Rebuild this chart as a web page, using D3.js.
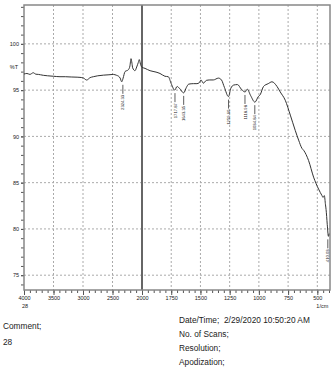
<!DOCTYPE html>
<html>
<head>
<meta charset="utf-8">
<script src="https://cdn.jsdelivr.net/npm/d3@7"></script>
<style>
body { margin: 0; background: #fff; }
text { font-family: "Liberation Sans", Arial, sans-serif; fill: #222; }
</style>
</head>
<body>
<div id="chart"></div>
<script>
// FTIR spectrum, %T vs wavenumber

let waveNumbers = [4000, 3950, 3900, 3842, 3800, 3757, 3720, 3672, 3600, 3500, 3390, 3300, 3200, 3100, 3051, 2990, 2938, 2880, 2825, 2750, 2650, 2560, 2486, 2430, 2401, 2370, 2344, 2320, 2288, 2232, 2205, 2186, 2170, 2158, 2119, 2090, 2062, 2046, 2025, 2005, 1974, 1931, 1880, 1846, 1804, 1775, 1750, 1720, 1700, 1680, 1643, 1620, 1600, 1560, 1530, 1510, 1495, 1475, 1450, 1420, 1390, 1346, 1320, 1295, 1260, 1240, 1215, 1183, 1150, 1118, 1100, 1070, 1034, 1005, 989, 960, 920, 888, 845, 817, 774, 731, 689, 660, 631, 617, 575, 532, 489, 460, 451, 440, 430, 425, 415, 405, 400];
let transmittance = [96.74, 96.8, 96.7, 96.88, 96.72, 96.7, 96.66, 96.6, 96.55, 96.5, 96.45, 96.45, 96.42, 96.4, 96.38, 96.3, 96.09, 96.35, 96.45, 96.55, 96.62, 96.66, 96.7, 96.6, 96.52, 96.3, 95.9, 96.3, 97.0, 97.2, 97.6, 98.4, 97.9, 97.4, 97.1, 97.5, 98.0, 98.3, 97.8, 97.5, 97.35, 97.1, 96.95, 96.8, 96.5, 96.45, 95.7, 95.0, 95.4, 95.2, 94.7, 95.3, 95.65, 95.7, 95.7, 95.8, 96.1, 95.75, 96.05, 96.1, 96.1, 96.3, 96.1, 95.3, 94.3, 95.2, 95.55, 95.6, 95.1, 94.8, 95.1, 94.4, 93.7, 94.3, 94.5, 95.4, 95.7, 95.9, 95.4, 94.8, 93.9, 92.3, 90.65, 89.6, 88.7, 88.5, 87.4, 85.6, 84.3, 83.6, 83.4, 83.6, 82.6, 82.1, 80.5, 79.2, 79.5];

let peakWn = [2324.33, 1717.87, 1643.35, 1259.6, 1118.98, 1034.84, 410.03];
let peakT = [95.9, 95.0, 94.7, 94.3, 94.8, 93.7, 79.2];

let xMajor = [4000, 3500, 3000, 2500, 2000, 1750, 1500, 1250, 1000, 750, 500];
let yMajor = [100, 95, 90, 85, 80, 75];

let infoLabels = ["Date/Time;", "No. of Scans;", "Resolution;", "Apodization;"];

let svgWidth = 334;
let svgHeight = 369;

let plot = { left: 24, top: 5, right: 330, bottom: 290 };

let svg = d3.select("#chart")
    .append("svg")
    .attr("width", svgWidth)
    .attr("height", svgHeight);

// scale doubles below 2000 like the instrument printout
let x = d3.scaleLinear()
    .domain([4000, 2000, 400])
    .range([plot.left, 142, 329]);

let y = d3.scaleLinear()
    .domain([73.4, 104.2])
    .range([plot.bottom, plot.top]);

// grid
svg.append("g")
    .selectAll("line")
    .data(yMajor)
    .enter()
    .append("line")
    .attr("x1", plot.left)
    .attr("x2", plot.right)
    .attr("y1", d => y(d))
    .attr("y2", d => y(d))
    .attr("stroke", "#aaa")
    .attr("stroke-width", 1)
    .attr("stroke-dasharray", "2,2");

svg.append("g")
    .selectAll("line")
    .data(xMajor.filter(d => d !== 4000 && d !== 2000))
    .enter()
    .append("line")
    .attr("x1", d => x(d))
    .attr("x2", d => x(d))
    .attr("y1", plot.top)
    .attr("y2", plot.bottom)
    .attr("stroke", "#aaa")
    .attr("stroke-width", 1)
    .attr("stroke-dasharray", "2,2");

svg.append("line")
    .attr("x1", x(2000))
    .attr("x2", x(2000))
    .attr("y1", plot.top)
    .attr("y2", plot.bottom)
    .attr("stroke", "#666")
    .attr("stroke-width", 2);

// axes
let leftMinor = d3.axisLeft(y)
    .tickValues(d3.range(74, 105))
    .tickSize(3)
    .tickFormat("");

let leftMajor = d3.axisLeft(y)
    .tickValues(yMajor)
    .tickSize(3)
    .tickPadding(2)
    .tickFormat(d3.format("d"));

let xMinorVals = d3.range(4000, 2000, -100).concat(d3.range(2000, 399, -50));

let bottomMinor = d3.axisBottom(x)
    .tickValues(xMinorVals)
    .tickSize(3)
    .tickFormat("");

let bottomMajor = d3.axisBottom(x)
    .tickValues(xMajor)
    .tickSize(5)
    .tickPadding(1)
    .tickFormat(d3.format("d"));

function styleAxis(g) {
    g.select(".domain").remove();
    g.selectAll("line").attr("stroke", "#555");
    g.selectAll("text")
        .attr("font-size", "5.5px")
        .attr("font-family", "Liberation Sans, Arial, sans-serif")
        .attr("fill", "#333");
}

svg.append("g").attr("transform", `translate(${plot.left},0)`).call(leftMinor).call(styleAxis);
svg.append("g").attr("transform", `translate(${plot.left},0)`).call(leftMajor).call(styleAxis);
svg.append("g").attr("transform", `translate(0,${plot.bottom})`).call(bottomMinor).call(styleAxis);
svg.append("g").attr("transform", `translate(0,${plot.bottom})`).call(bottomMajor).call(styleAxis);

svg.append("text")
    .attr("x", 18)
    .attr("y", y(97.5))
    .attr("dy", "0.35em")
    .attr("text-anchor", "end")
    .attr("font-size", "5.5px")
    .text("%T");

svg.append("text")
    .attr("x", x(4000) + 1)
    .attr("y", 308)
    .attr("text-anchor", "middle")
    .attr("font-size", "5.5px")
    .text("28");

svg.append("text")
    .attr("x", x(500) + 5)
    .attr("y", 308)
    .attr("text-anchor", "middle")
    .attr("font-size", "5.5px")
    .text("1/cm");

// frame
svg.append("rect")
    .attr("x", plot.left)
    .attr("y", plot.top)
    .attr("width", plot.right - plot.left)
    .attr("height", plot.bottom - plot.top)
    .attr("fill", "none")
    .attr("stroke", "#888")
    .attr("stroke-width", 1.5);

// spectrum
let spectrum = waveNumbers.map((w, i) => ({ w: w, t: transmittance[i] }));

let line = d3.line()
    .x(d => x(d.w))
    .y(d => y(d.t))
    .curve(d3.curveMonotoneX);

svg.append("path")
    .datum(spectrum)
    .attr("fill", "none")
    .attr("stroke", "#333")
    .attr("stroke-width", 1)
    .attr("d", line);

// peak picks
let peaks = svg.append("g")
    .selectAll("g")
    .data(peakWn.map((w, i) => ({ w: w, t: peakT[i] })))
    .enter()
    .append("g")
    .attr("transform", d => `translate(${x(d.w)},${y(d.t)})`);

peaks.append("line")
    .attr("x1", 0)
    .attr("x2", 0)
    .attr("y1", 3)
    .attr("y2", 12)
    .attr("stroke", "#333")
    .attr("stroke-width", 0.8);

peaks.append("text")
    .attr("transform", "translate(1.6,13) rotate(-90)")
    .attr("text-anchor", "end")
    .attr("font-size", "4.2px")
    .attr("fill", "#444")
    .text(d => d3.format(".2f")(d.w));

// footer
let footer = svg.append("g")
    .attr("font-size", "8.3px");

footer.append("text").attr("x", 3).attr("y", 329).text("Comment;");
footer.append("text").attr("x", 3).attr("y", 345).text("28");

footer.selectAll(".info")
    .data(infoLabels)
    .enter()
    .append("text")
    .attr("class", "info")
    .attr("x", 179)
    .attr("y", (d, i) => 323 + i * 14)
    .text(d => d);

footer.append("text").attr("x", 224).attr("y", 323).text("2/29/2020 10:50:20 AM");
</script>
</body>
</html>
